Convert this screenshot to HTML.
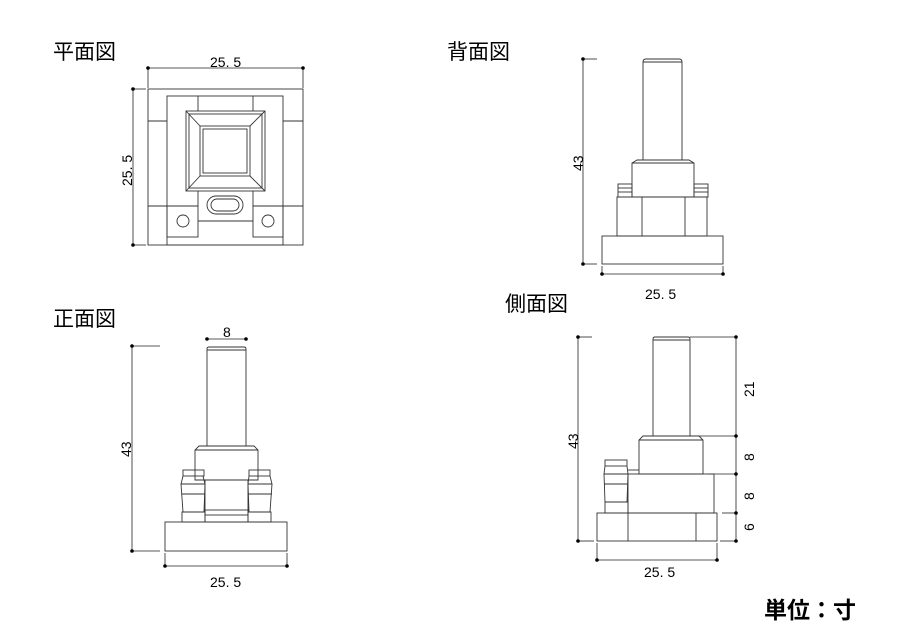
<!DOCTYPE html>
<html><head><meta charset="utf-8"><style>
html,body{margin:0;padding:0;background:#fff;width:900px;height:637px;overflow:hidden}
svg{display:block}
.t{font-family:"Liberation Sans","Noto Sans CJK JP",sans-serif;fill:#000}
.l{fill:none;stroke:#333;stroke-width:0.9}
.d{fill:none;stroke:#222;stroke-width:0.8}
</style></head><body>
<svg width="900" height="637" viewBox="0 0 900 637" xmlns="http://www.w3.org/2000/svg">
<g class="t" font-size="21">
<text x="53" y="59">平面図</text>
<text x="447" y="59">背面図</text>
<text x="53" y="326">正面図</text>
<text x="505" y="311">側面図</text>
</g>
<text class="t" x="764" y="618" font-size="23" font-weight="bold">単位：寸</text>

<!-- Plan view -->
<g class="d">
<line x1="148" y1="68" x2="303" y2="68"/><line x1="148" y1="68" x2="148" y2="88"/><line x1="303" y1="68" x2="303" y2="88"/>
<line x1="133" y1="89" x2="133" y2="245"/><line x1="133" y1="89" x2="146" y2="89"/><line x1="133" y1="245" x2="146" y2="245"/>
</g>
<g fill="#000"><circle cx="148" cy="68" r="1.8"/><circle cx="303" cy="68" r="1.8"/><circle cx="133" cy="89" r="1.8"/><circle cx="133" cy="245" r="1.8"/></g>
<text class="t" x="210" y="67" font-size="14">25. 5</text>
<text class="t" x="0" y="0" font-size="14" transform="translate(132,186) rotate(-90)">25. 5</text>
<g class="l">
<rect x="148" y="89" width="155" height="156"/>
<rect x="167" y="96" width="116" height="149"/>
<line x1="148" y1="121" x2="167" y2="121"/><line x1="283" y1="121" x2="303" y2="121"/>
<line x1="198" y1="96" x2="198" y2="111"/><line x1="253" y1="96" x2="253" y2="111"/>
<line x1="148" y1="206" x2="198" y2="206"/><line x1="253" y1="206" x2="303" y2="206"/>
<rect x="186" y="111" width="79" height="80"/>
<rect x="189" y="114" width="73" height="74"/>
<rect x="200" y="126" width="50" height="50"/>
<rect x="203" y="129" width="44" height="44"/>
<line x1="186" y1="111" x2="200" y2="126"/><line x1="265" y1="111" x2="250" y2="126"/>
<line x1="186" y1="191" x2="200" y2="176"/><line x1="265" y1="191" x2="250" y2="176"/>
<rect x="167" y="206" width="31" height="31"/><rect x="253" y="206" width="30" height="31"/>
<line x1="198" y1="221" x2="253" y2="221"/>
<circle cx="183" cy="221" r="6"/><circle cx="268" cy="221" r="6"/>
<rect x="207" y="196" width="36" height="18" rx="9"/>
<rect x="211" y="199" width="28" height="12" rx="6"/>
<line x1="198" y1="191" x2="198" y2="206"/><line x1="253" y1="191" x2="253" y2="206"/>
</g>

<!-- Back view -->
<g class="d">
<line x1="583" y1="59" x2="583" y2="264"/><line x1="583" y1="59" x2="597" y2="59"/><line x1="583" y1="264" x2="597" y2="264"/>
<line x1="602" y1="274" x2="723" y2="274"/><line x1="602" y1="266" x2="602" y2="274"/><line x1="723" y1="266" x2="723" y2="274"/>
</g>
<g fill="#000"><circle cx="583" cy="59" r="1.8"/><circle cx="583" cy="264" r="1.8"/><circle cx="602" cy="274" r="1.8"/><circle cx="723" cy="274" r="1.8"/></g>
<text class="t" x="0" y="0" font-size="14" transform="translate(583,171) rotate(-90)">43</text>
<text class="t" x="645" y="299" font-size="14">25. 5</text>
<g class="l">
<path d="M643,160 V62 Q643,59 646,59 H679 Q682,59 682,62 V160"/>
<line x1="643" y1="62" x2="682" y2="62"/>
<path d="M632,197 V163 L637,160 H689 L694,163 V197 Z"/>
<line x1="632" y1="163" x2="694" y2="163"/>
<rect x="618" y="184" width="14" height="13"/><line x1="618" y1="188" x2="632" y2="188"/><line x1="618" y1="192" x2="632" y2="192"/>
<rect x="694" y="184" width="14" height="13"/><line x1="694" y1="188" x2="708" y2="188"/><line x1="694" y1="192" x2="708" y2="192"/>
<rect x="617" y="197" width="90" height="39"/>
<line x1="642" y1="197" x2="642" y2="236"/><line x1="685" y1="197" x2="685" y2="236"/>
<rect x="602" y="236" width="121" height="28"/>
</g>

<!-- Front view -->
<g class="d">
<line x1="207" y1="339" x2="246" y2="339"/>
<line x1="132" y1="346" x2="132" y2="551"/><line x1="132" y1="346" x2="160" y2="346"/><line x1="132" y1="551" x2="160" y2="551"/>
<line x1="165" y1="566" x2="287" y2="566"/><line x1="165" y1="553" x2="165" y2="566"/><line x1="287" y1="553" x2="287" y2="566"/>
</g>
<g fill="#000"><circle cx="207" cy="339" r="1.8"/><circle cx="246" cy="339" r="1.8"/><circle cx="132" cy="346" r="1.8"/><circle cx="132" cy="551" r="1.8"/><circle cx="165" cy="566" r="1.8"/><circle cx="287" cy="566" r="1.8"/></g>
<text class="t" x="223" y="337" font-size="14">8</text>
<text class="t" x="0" y="0" font-size="14" transform="translate(131,457) rotate(-90)">43</text>
<text class="t" x="210" y="587" font-size="14">25. 5</text>
<g class="l">
<path d="M207,446 V349 Q207,347 209,347 H244 Q246,347 246,349 V446"/>
<line x1="207" y1="350" x2="246" y2="350"/>
<path d="M195,480 V450 L199,446 H254 L258,450 V480 Z"/>
<line x1="195" y1="450" x2="258" y2="450"/>
<rect x="205" y="480" width="43" height="42"/>
<rect x="205" y="510" width="43" height="5"/>
<g>
<rect x="183" y="470" width="21" height="6"/>
<path d="M183,476 L181,484 H205 L203,476"/>
<path d="M181,484 L183,512 H204 L205,484"/>
<line x1="182" y1="494" x2="205" y2="494"/>
<rect x="182" y="512" width="23" height="10"/>
</g>
<g>
<rect x="249" y="470" width="21" height="6"/>
<path d="M249,476 L248,484 H272 L270,476"/>
<path d="M248,484 L249,512 H270 L272,484"/>
<line x1="248" y1="494" x2="272" y2="494"/>
<rect x="248" y="512" width="23" height="10"/>
</g>
<rect x="165" y="522" width="122" height="29"/>
</g>

<!-- Side view -->
<g class="d">
<line x1="578" y1="337" x2="578" y2="541"/><line x1="578" y1="337" x2="592" y2="337"/><line x1="578" y1="541" x2="594" y2="541"/>
<line x1="736" y1="337" x2="736" y2="541"/>
<line x1="690" y1="337" x2="736" y2="337"/><line x1="696" y1="436" x2="736" y2="436"/><line x1="708" y1="474" x2="736" y2="474"/><line x1="722" y1="513" x2="736" y2="513"/><line x1="720" y1="541" x2="736" y2="541"/>
<line x1="597" y1="560" x2="717" y2="560"/><line x1="597" y1="543" x2="597" y2="560"/><line x1="717" y1="543" x2="717" y2="560"/>
</g>
<g fill="#000"><circle cx="578" cy="337" r="1.8"/><circle cx="578" cy="541" r="1.8"/><circle cx="736" cy="337" r="1.8"/><circle cx="736" cy="436" r="1.8"/><circle cx="736" cy="474" r="1.8"/><circle cx="736" cy="513" r="1.8"/><circle cx="736" cy="541" r="1.8"/><circle cx="597" cy="560" r="1.8"/><circle cx="717" cy="560" r="1.8"/></g>
<text class="t" x="0" y="0" font-size="14" transform="translate(578,449) rotate(-90)">43</text>
<text class="t" x="0" y="0" font-size="14" transform="translate(754,397) rotate(-90)">21</text>
<text class="t" x="0" y="0" font-size="14" transform="translate(754,461) rotate(-90)">8</text>
<text class="t" x="0" y="0" font-size="14" transform="translate(754,500) rotate(-90)">8</text>
<text class="t" x="0" y="0" font-size="14" transform="translate(754,531) rotate(-90)">6</text>
<text class="t" x="644" y="577" font-size="14">25. 5</text>
<g class="l">
<path d="M653,436 V339 Q653,337 655,337 H688 Q690,337 690,339 V436"/>
<line x1="653" y1="340" x2="690" y2="340"/>
<path d="M639,474 V440 L643,436 H699 L703,440 V474 Z"/>
<line x1="639" y1="440" x2="703" y2="440"/>
<rect x="628" y="474" width="86" height="39"/>
<line x1="628" y1="470" x2="639" y2="470"/>
<rect x="597" y="513" width="120" height="28"/>
<line x1="628" y1="513" x2="628" y2="541"/><line x1="696" y1="513" x2="696" y2="541"/>
<rect x="605" y="460" width="22" height="6"/>
<path d="M605,466 L604,474 H628 L627,466"/>
<path d="M604,474 L605,502 H627 L628,474"/>
<line x1="604" y1="484" x2="628" y2="484"/>
<rect x="605" y="502" width="23" height="11"/>
</g>
</svg>
</body></html>
